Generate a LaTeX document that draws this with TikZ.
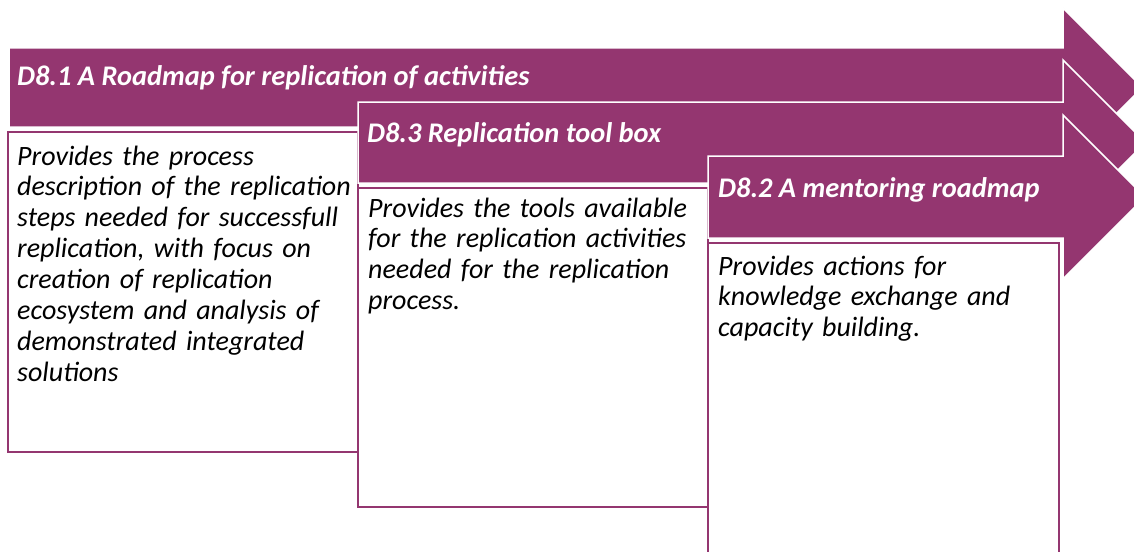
\documentclass[tikz,border=0pt]{standalone}
\usepackage{fontspec}
\setmainfont{Carlito}
\usepackage{tikz}
\usetikzlibrary{positioning}
\definecolor{plum}{RGB}{148,54,112}
\tikzset{
  band/.style={fill=plum, draw=white, line width=1.5pt, line join=miter},
  descbox/.style={fill=white, draw=plum, line width=2.6pt},
  headtxt/.style={text=white, font=\fontsize{28.4}{31}\selectfont\bfseries\itshape, inner sep=0pt, anchor=base west},
  bodytxt/.style={text=black, font=\fontsize{28}{30.9}\selectfont\itshape, inner sep=0pt, anchor=base west, text width=345pt, align=left}
}

\begin{document}
\begin{tikzpicture}[x=1pt,y=-1pt]
    \useasboundingbox (0,0) rectangle (1134,551);
    \clip (0,0) rectangle (1134,551);

    % D8.1
    \draw[band] (9,48) -- (1063,48) -- (1063,8) -- (1142.5,87.5) -- (1063,167) -- (1063,127) -- (9,127) -- cycle;
    \node[headtxt] (head81) at (17,85) {D8.1 A Roadmap for replication of activities};
    \draw[descbox] (8,132) rectangle (358,452);
    \node[bodytxt] (body81) at (17,165) {Provides the process\\ description of the replication\\ steps needed for successfull\\ replication, with focus on\\ creation of replication\\ ecosystem and analysis of\\ demonstrated integrated\\ solutions};

    % D8.3
    \draw[band] (358,102) -- (1063,102) -- (1063,60) -- (1145.5,142.5) -- (1063,225) -- (1063,183) -- (358,183) -- cycle;
    \node[headtxt] (head83) at (367,142) {D8.3 Replication tool box};
    \draw[descbox] (358,188) rectangle (708,507);
    \node[bodytxt] (body83) at (368,217) {Provides the tools available\\ for the replication activities\\ needed for the replication\\ process.};

    % D8.2
    \draw[band] (708,156) -- (1063,156) -- (1063,115) -- (1145,197) -- (1063,279) -- (1063,238) -- (708,238) -- cycle;
    \node[headtxt] (head82) at (718,197) {D8.2 A mentoring roadmap};
    \draw[descbox] (708,243) rectangle (1059,565);
    \node[bodytxt] (body82) at (718,275) {Provides actions for\\ knowledge exchange and\\ capacity building.};
\end{tikzpicture}
\end{document}
